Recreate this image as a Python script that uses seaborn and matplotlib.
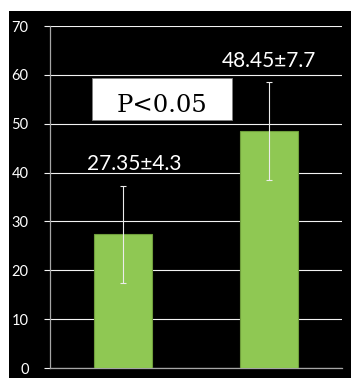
import matplotlib
matplotlib.use("Agg")
import matplotlib.pyplot as plt
from matplotlib.patches import Rectangle
import seaborn as sns
import pandas as pd

# Group means, error-bar half-widths and the mean±SD captions
groups = ["Control", "Treatment"]
means = [27.35, 48.45]
err = [10.0, 10.0]
captions = ["27.35±4.3", "48.45±7.7"]
y_ticks = [0, 10, 20, 30, 40, 50, 60, 70]
p_text = "P<0.05"

df = pd.DataFrame({"group": groups, "mean": means})

sns.set_theme(style="white")
plt.rcParams["font.family"] = ["Lato", "DejaVu Sans"]

W, H = 351, 378
fig = plt.figure(figsize=(W / 100, H / 100), dpi=100, facecolor="white")

# black slide panel behind the chart
fig.patches.append(Rectangle((9 / W, 0), 1 - 9 / W, (H - 11) / H,
                             transform=fig.transFigure, facecolor="black",
                             edgecolor="none", zorder=-10))

ax = fig.add_axes([50 / W, (H - 368) / H, 292 / W, 342 / H])
ax.set_zorder(1)
ax.set_facecolor("black")
ax.patch.set_alpha(0)

sns.barplot(data=df, x="group", y="mean", ax=ax, width=0.4,
            color="#8fc853", edgecolor="#6f9e3c", linewidth=0.8,
            saturation=1, errorbar=None, zorder=3)

centers = [p.get_x() + p.get_width() / 2 for p in ax.patches]
ax.errorbar(centers, means, yerr=err, fmt="none", ecolor="#ececec",
            elinewidth=0.8, capsize=2, capthick=0.8, zorder=4)

# value captions above the error bars
label_dx = [0.08, 0.0]
for cx, m, e, txt, dx in zip(centers, means, err, captions, label_dx):
    ax.text(cx + dx, m + e + 3.25, txt, ha="center", va="baseline",
            color="white", fontsize=15, family=["Lato", "DejaVu Sans"],
            zorder=5)

# significance box
ax.add_patch(Rectangle((0.144, 0.725), 0.479, 0.123, transform=ax.transAxes,
                       facecolor="white", edgecolor="#808080", linewidth=0.6,
                       zorder=5))
ax.text(0.385, 0.7485, p_text, transform=ax.transAxes, ha="center",
        va="baseline", fontsize=17.5, color="black",
        family=["DejaVu Serif"], zorder=6)

ax.set_xlim(-0.5, 1.5)
ax.set_ylim(0, 70)
ax.set_yticks(y_ticks)
ax.set_yticklabels([str(v) for v in y_ticks], color="white", fontsize=10.5)
ax.set_xticks([])
ax.set_xlabel("")
ax.set_ylabel("")

ax.yaxis.grid(True, color="#f2f2f2", linewidth=0.8)
ax.set_axisbelow(True)
ax.tick_params(axis="y", length=4.3, width=0.8, color="#f2f2f2", pad=11,
               left=True)
for side in ["top", "right"]:
    ax.spines[side].set_visible(False)
for side in ["left", "bottom"]:
    ax.spines[side].set_color("#a6a6a6")
    ax.spines[side].set_linewidth(0.9)

fig.savefig("out.png", dpi=100, facecolor="white")
